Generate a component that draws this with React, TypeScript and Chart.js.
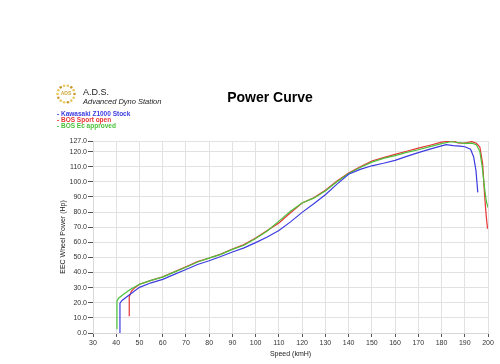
import React, { useEffect, useRef } from 'react';
import { Chart, registerables } from 'chart.js';
Chart.register(...registerables);

const seriesNames = ['Kawasaki Z1000 Stock', 'BOS Sport open', 'BOS Ec approved'];
const seriesColors = ['#3c3ce0', '#e83434', '#4cc23c'];

const stockSpeed = [41.6, 41.6, 42.5, 45, 50, 55, 60, 65, 70, 75, 80, 85, 90, 95, 100, 105, 110, 115, 120, 125, 130, 135, 140, 145, 150, 155, 160, 165, 170, 175, 180, 182, 185, 188, 190, 192.5, 193.8, 194.8, 195.6];
const stockPower = [0, 19.7, 21.5, 24.5, 30.2, 33.2, 35.5, 38.8, 42, 45.3, 47.8, 50.6, 53.6, 56.3, 59.8, 63.5, 67.8, 73.5, 79.8, 85.5, 91.5, 98.5, 105, 108.2, 110.6, 112.3, 114.2, 116.8, 119.3, 121.6, 123.8, 124.6, 124, 123.6, 123.2, 121.5, 116.6, 107.8, 93];

const sportSpeed = [45.6, 45.6, 46.5, 48, 50, 55, 60, 65, 70, 75, 80, 85, 90, 95, 100, 105, 110, 115, 120, 125, 130, 135, 140, 145, 150, 155, 160, 165, 170, 175, 180, 183, 185, 187, 189, 191, 193, 195, 196.5, 197.7, 198.5, 199.2, 199.8];
const sportPower = [11, 24, 27.5, 30, 32.3, 34.8, 37.2, 40.5, 43.8, 47.2, 49.6, 52.2, 55.6, 58.5, 62.8, 67.8, 72.8, 79.5, 86, 89.5, 94.5, 100.5, 105.8, 110, 113.8, 116, 118.2, 120.2, 122.3, 124.2, 126.2, 126.8, 127, 125.8, 125.5, 126, 126.6, 125.5, 123, 112, 92, 78, 69];

const ecSpeed = [40.3, 40.3, 41, 43, 46, 50, 55, 60, 65, 70, 75, 80, 85, 90, 95, 100, 105, 110, 115, 120, 125, 130, 135, 140, 145, 150, 155, 160, 165, 170, 175, 180, 184, 187, 190, 193, 195, 196.5, 197.5, 198.5, 199.3, 200];
const ecPower = [2.5, 21, 23, 25.5, 28.8, 32.2, 34.8, 37, 40.3, 43.5, 47, 49.5, 52, 55.3, 58, 62.5, 67.5, 74, 80.5, 86, 89.2, 94, 100, 105.5, 109.5, 113, 115.5, 117.3, 119.5, 121.2, 123.3, 125.3, 126.5, 126, 125.4, 125.6, 124.5, 120, 110, 96, 87, 83];

const yTicks = [0, 10, 20, 30, 40, 50, 60, 70, 80, 90, 100, 110, 120, 127];
const xMin = 30;
const xMax = 200;
const xStep = 10;

const FONT = '"Liberation Sans", Arial, sans-serif';

const pts = (xs: number[], ys: number[]) => xs.map((x, i) => ({ x, y: ys[i] }));

const headerPlugin = {
  id: 'header',
  afterDraw(chart: any) {
    const ctx = chart.ctx;
    ctx.save();
    // logo dots
    const cx = 66, cy = 94, r = 8.5;
    for (let i = 0; i < 14; i++) {
      const a = (i / 14) * Math.PI * 2;
      ctx.fillStyle = i % 3 === 0 ? '#c89a30' : '#e8c860';
      ctx.beginPath();
      ctx.arc(cx + Math.cos(a) * r, cy + Math.sin(a) * r, 1.3, 0, Math.PI * 2);
      ctx.fill();
    }
    ctx.fillStyle = '#d0a840';
    ctx.font = `bold 5px ${FONT}`;
    ctx.textAlign = 'center';
    ctx.textBaseline = 'middle';
    ctx.fillText('ADS', cx, cy);
    ctx.textAlign = 'left';
    ctx.textBaseline = 'alphabetic';
    ctx.fillStyle = '#222';
    ctx.font = `9px ${FONT}`;
    ctx.fillText('A.D.S.', 83, 95);
    ctx.font = `italic 7.5px ${FONT}`;
    ctx.fillText('Advanced Dyno Station', 83, 103.5);
    // title
    ctx.font = `bold 14px ${FONT}`;
    ctx.textAlign = 'center';
    ctx.fillStyle = '#000';
    ctx.fillText('Power Curve', 270, 102);
    // legend
    ctx.textAlign = 'left';
    ctx.font = `bold 6.5px ${FONT}`;
    seriesNames.forEach((n, i) => {
      ctx.fillStyle = seriesColors[i];
      ctx.fillText('- ' + n, 57, 115.5 + i * 6.3);
    });
    ctx.restore();
  },
};

export default function App() {
  const ref = useRef<HTMLCanvasElement>(null);
  useEffect(() => {
    document.body.style.margin = '0';
    const chart = new Chart(ref.current as HTMLCanvasElement, {
      type: 'line',
      data: {
        datasets: [
          { label: seriesNames[0], data: pts(stockSpeed, stockPower), borderColor: seriesColors[0] },
          { label: seriesNames[2], data: pts(ecSpeed, ecPower), borderColor: seriesColors[2] },
          { label: seriesNames[1], data: pts(sportSpeed, sportPower), borderColor: seriesColors[1] },
        ].map((d) => ({ ...d, borderWidth: 1.2, pointRadius: 0, tension: 0, fill: false })),
      },
      options: {
        animation: false,
        responsive: false,
        parsing: false,
        layout: { padding: { top: 141, right: 12, left: 0, bottom: 0 } },
        plugins: { legend: { display: false }, title: { display: false }, tooltip: { enabled: false } },
        scales: {
          x: {
            type: 'linear',
            min: xMin,
            max: xMax,
            afterFit: (s: any) => { s.height = 31; },
            ticks: { stepSize: xStep, autoSkip: false, maxRotation: 0, color: '#333', font: { family: FONT, size: 7 }, padding: 2 },
            grid: { color: '#e2e2e2', tickColor: '#555', tickLength: 4 },
            border: { color: '#d8d8d8' },
            title: { display: true, text: 'Speed (kmH)', color: '#222', font: { family: FONT, size: 7 }, padding: { top: 0, bottom: 6 } },
          },
          y: {
            type: 'linear',
            min: 0,
            max: 127,
            afterFit: (s: any) => { s.width = 93; },
            afterBuildTicks: (s: any) => { s.ticks = yTicks.map((v) => ({ value: v })); },
            ticks: { autoSkip: false, color: '#333', font: { family: FONT, size: 7 }, padding: 1, callback: (v: any) => Number(v).toFixed(1) },
            grid: { color: '#e2e2e2', tickColor: '#555', tickLength: 5 },
            border: { color: '#d8d8d8' },
            title: { display: true, text: 'EEC Wheel Power (Hp)', color: '#222', font: { family: FONT, size: 7 }, padding: { top: 59, bottom: 0 } },
          },
        },
      },
      plugins: [headerPlugin],
    } as any);
    return () => chart.destroy();
  }, []);
  return (
    <div style={{ position: 'fixed', left: 0, top: 0, width: 500, height: 364, background: '#fff' }}>
      <canvas ref={ref} width={500} height={364} style={{ width: 500, height: 364 }} />
    </div>
  );
}
